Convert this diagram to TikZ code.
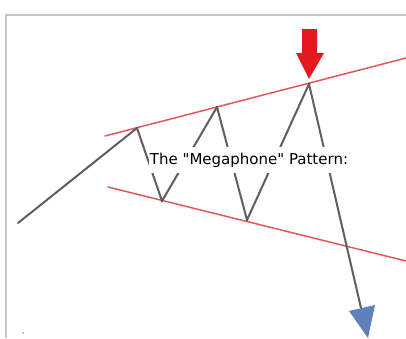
\documentclass[tikz,border=0pt]{standalone}
\usepackage{fontspec}
\newfontfamily\labelfont{DejaVu Sans}
\usetikzlibrary{arrows.meta}
\definecolor{trendred}{RGB}{226,88,96}
\definecolor{pathgray}{RGB}{95,95,95}
\definecolor{framegray}{RGB}{196,196,196}
\definecolor{arrowred}{RGB}{228,24,30}
\definecolor{arrowblue}{RGB}{96,128,186}
\tikzset{
  every picture/.style={line join=round, line cap=round},
  trend/.style={trendred, line width=1.5pt},
  price/.style={pathgray, line width=2pt},
  pivot/.style={circle, fill=black!80, inner sep=0pt, minimum size=2.5pt},
}
\begin{document}
\begin{tikzpicture}[x=1pt,y=-1pt]
\useasboundingbox (0,0) rectangle (406,338);
\fill[white] (0,0) rectangle (406,338);
% frame
\draw[framegray, line width=2.5pt, line cap=butt] (6,338) -- (6,15) -- (406,15);
% trend lines
\draw[trend] (105,136) -- (406,58);
\draw[trend] (108,187) -- (406,261);
% price path
\coordinate (p0) at (18,223);
\node[pivot] (p1) at (137,128) {};
\node[pivot] (p2) at (162,201) {};
\node[pivot] (p3) at (217,107) {};
\node[pivot] (p4) at (247,220) {};
\node[pivot] (p5) at (309,84) {};
\coordinate (p6) at (361,308);
\draw[price] (p0) -- (p1.center) -- (p2.center) -- (p3.center) -- (p4.center) -- (p5.center) -- (p6);
% blue arrow head
\fill[arrowblue] (349,311) -- (375,305) -- (368,338) -- cycle;
% red arrow
\fill[arrowred] (302,29) -- (317,29) -- (317,53) -- (324,53) -- (309,79)
  -- (296,53) -- (302,53) -- cycle;
% label
\node[fill=white, inner xsep=1pt, inner ysep=6pt, font=\labelfont\fontsize{15}{17}\selectfont]
  (title) at (249,160) {The "Megaphone" Pattern:};
% stray dot
\fill[black!50] (23,333) circle (0.8);
\end{tikzpicture}
\end{document}
